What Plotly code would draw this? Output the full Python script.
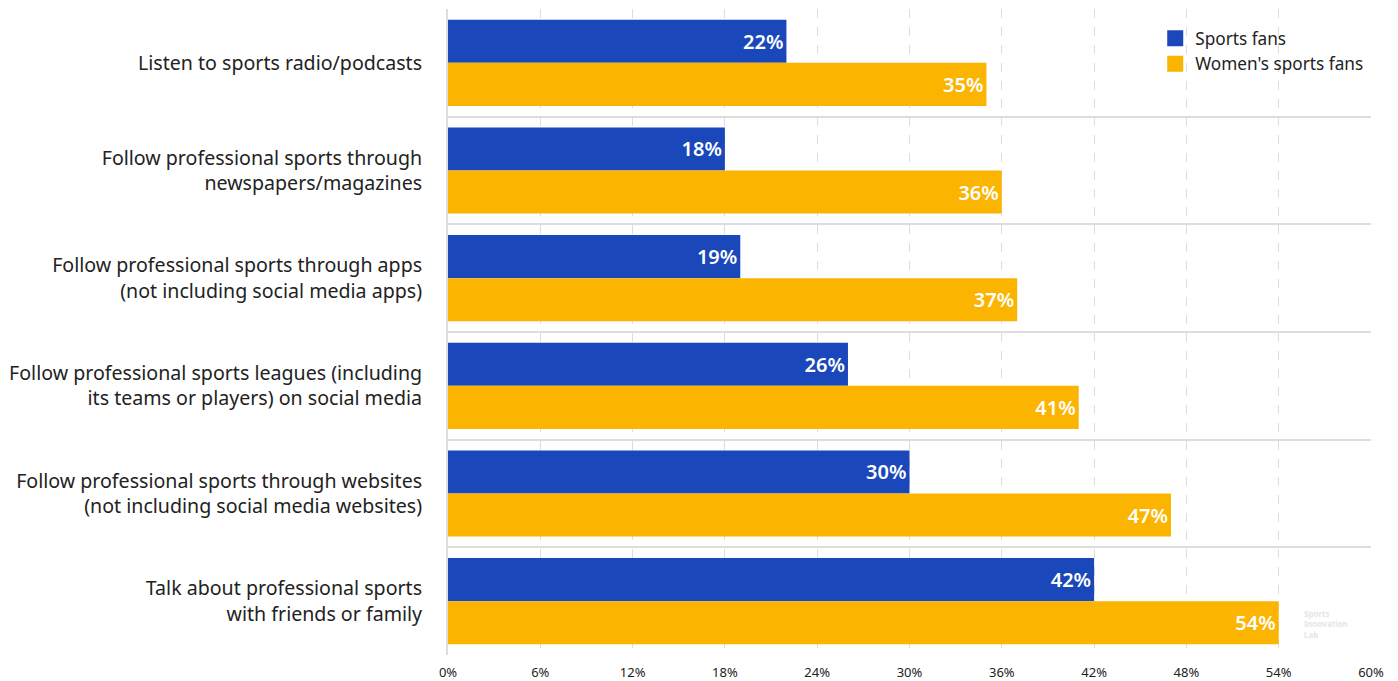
import plotly.graph_objects as go

# Survey categories, top to bottom
categories = [
    "Listen to sports radio/podcasts",
    "Follow professional sports through<br>newspapers/magazines",
    "Follow professional sports through apps<br>(not including social media apps)",
    "Follow professional sports leagues (including<br>its teams or players) on social media",
    "Follow professional sports through websites<br>(not including social media websites)",
    "Talk about professional sports<br>with friends or family",
]
sports_fans = [22, 18, 19, 26, 30, 42]
womens_sports_fans = [35, 36, 37, 41, 47, 54]
x_ticks = [0, 6, 12, 18, 24, 30, 36, 42, 48, 54, 60]

BLUE = "#1A47BA"
YELLOW = "#FBB400"
FONT = "Noto Sans"

positions = list(range(len(categories)))
series = [
    ("Sports fans", sports_fans, BLUE),
    ("Women's sports fans", womens_sports_fans, YELLOW),
]

fig = go.Figure()
for name, values, color in series:
    fig.add_trace(go.Bar(
        name=name,
        y=positions,
        x=values,
        orientation="h",
        marker=dict(color=color, line=dict(width=0)),
        text=[f"{v}%" for v in values],
        texttemplate="%{text}",
        textposition="inside",
        insidetextanchor="end",
        textfont=dict(color="white", size=20, family=FONT, weight=600),
        hoverinfo="skip",
        showlegend=False,
    ))

# legend entries with larger square swatches
for name, values, color in series:
    fig.add_trace(go.Scatter(
        name=name,
        x=[None], y=[None],
        mode="markers",
        marker=dict(symbol="square", size=17, color=color),
        showlegend=True,
    ))

fig.update_layout(
    width=1398,
    height=681,
    barmode="group",
    bargap=0.2,
    bargroupgap=0,
    plot_bgcolor="white",
    paper_bgcolor="white",
    margin=dict(l=448, r=27, t=9, b=26, autoexpand=False),
    font=dict(family=FONT, color="#222222"),
    showlegend=True,
    legend=dict(
        x=0.997, y=0.982, xanchor="right", yanchor="top",
        bgcolor="rgba(0,0,0,0)",
        font=dict(size=17.2, family=FONT, color="#222222"),
        traceorder="normal",
        itemwidth=30,
        tracegroupgap=0,
    ),
    uniformtext=dict(mode="show", minsize=10),
)

fig.update_xaxes(
    range=[0, 60],
    tickvals=x_ticks,
    ticktext=[f"{v}%" for v in x_ticks],
    tickfont=dict(size=13, family=FONT, color="#222222"),
    showgrid=True,
    gridcolor="#DDDDDD",
    griddash="dash",
    gridwidth=1,
    zeroline=False,
    showline=False,
    ticks="",
    ticklabelstandoff=8,
    automargin=False,
    fixedrange=True,
)

fig.update_yaxes(
    range=[len(categories) - 0.5, -0.5],
    tickvals=positions,
    ticktext=categories,
    tickfont=dict(size=19.6, family=FONT, color="#222222"),
    showgrid=False,
    zeroline=False,
    showline=True,
    linecolor="#DDDDDD",
    linewidth=2,
    ticks="",
    ticklabelstandoff=20,
    automargin=False,
    minor=dict(tick0=0.5, dtick=1, showgrid=True, gridcolor="#DDDDDD", gridwidth=2),
    fixedrange=True,
)

# faint brand mark in the lower right corner
fig.add_annotation(
    text="<b>Sports<br>Innovation<br>Lab</b>",
    xref="paper", yref="paper",
    x=0.925, y=0.02, xanchor="left", yanchor="bottom",
    showarrow=False, align="left",
    font=dict(size=8, family=FONT, color="#E6E6E6"),
)

fig.write_html("out.html")
